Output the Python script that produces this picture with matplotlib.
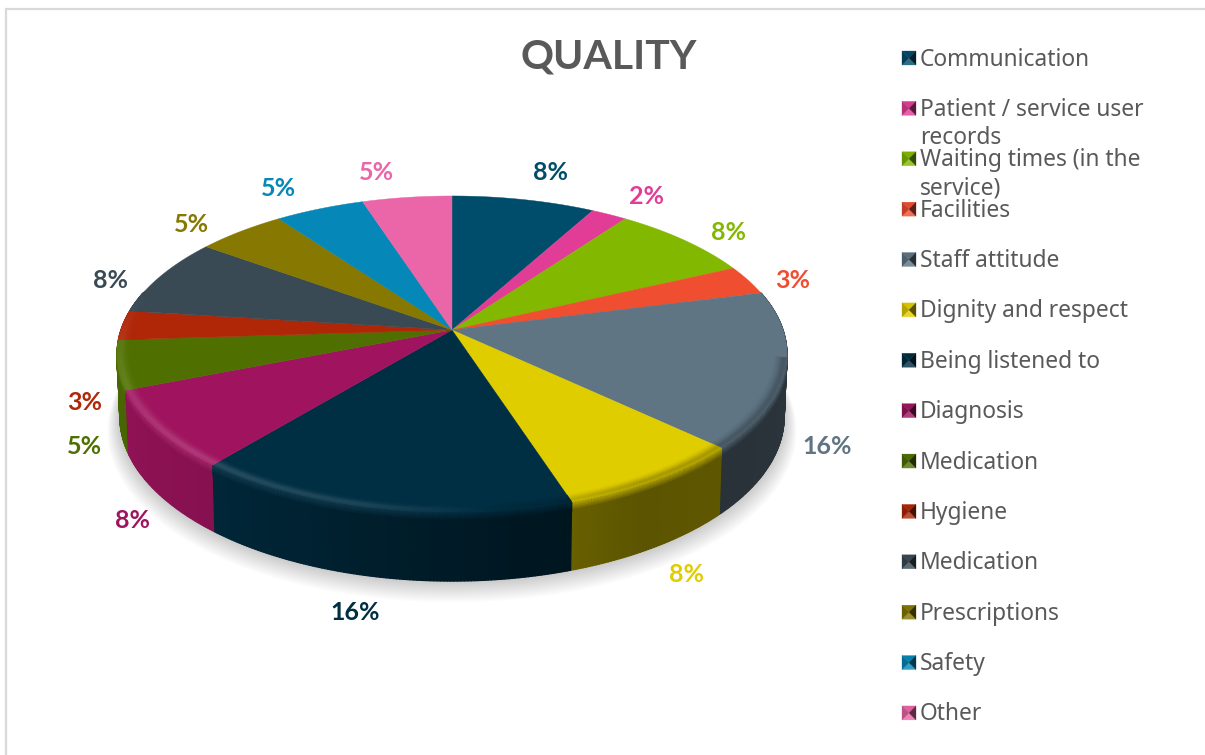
import matplotlib
matplotlib.use('Agg')
import matplotlib.pyplot as plt
from matplotlib.collections import PolyCollection
from matplotlib.colors import to_rgb
from matplotlib.patches import Polygon, Rectangle
import numpy as np

categories = ['Communication', 'Patient / service user\nrecords',
              'Waiting times (in the\nservice)', 'Facilities', 'Staff attitude',
              'Dignity and respect', 'Being listened to', 'Diagnosis', 'Medication',
              'Hygiene', 'Medication', 'Prescriptions', 'Safety', 'Other']
values = [8, 2, 8, 3, 16, 8, 16, 8, 5, 3, 8, 5, 5, 5]
colors = ['#004d6b', '#e23d96', '#82b900', '#f04e31', '#5f7584', '#e0cd00', '#002e43',
          '#a0145f', '#4f7000', '#b02708', '#3a4a55', '#867800', '#0588b8', '#ea66a8']

# label anchors in figure pixels
label_pos = [(551, 173), (647, 196), (729, 233), (793, 280), (827, 446), (686, 575),
             (355, 613), (132, 521), (84, 446), (85, 402), (110, 280), (191, 224),
             (278, 189), (376, 172)]

# perspective of the disc
CX, CY = 452, 330
RX, RY = 331, 154.4
PERSP = 0.152
TEXT_GREY = '#595959'

wall_angle = [100, 150, 170, 200, 220, 250, 280]
wall_level = [0.45, 0.41, 0.50, 0.72, 0.84, 0.90, 0.90]
highlight_angle = [172, 195, 225, 260, 285]
highlight_level = [0.0, 0.12, 0.16, 0.10, 0.0]


def project(theta, rho=1.0, drop=False):
    # theta in degrees clockwise from 12 o'clock
    t = np.radians(theta)
    u, v = rho * np.sin(t), rho * np.cos(t)
    w = 1 + PERSP * v
    x = RX * u / w
    y = CY - RY * v / w
    if drop:
        # wall depth grows towards the viewer, and the lower ring sits a bit further away
        y = y + 61 - 8 * v
        x = x * 0.992
    return CX + x, y


def blend(a, b, f):
    return tuple(np.array(a) * (1 - f) + np.array(b) * f)


def rim_tone(base, angle, k):
    # lit shoulder on the left of the disc, shaded one on the right
    dark = np.interp(angle, [150, 185], [0.25, 0.0])
    tone = np.array(base) * (1 - dark * k)
    return blend(tone, (1, 1, 1), np.interp(angle, highlight_angle, highlight_level) * k)


fig = plt.figure(figsize=(12.05, 7.55), dpi=100)
ax = fig.add_axes([0, 0, 1, 1])
ax.set_xlim(0, 1205)
ax.set_ylim(755, 0)
ax.axis('off')

ax.add_patch(Rectangle((6, 9), 1300, 900, fc='white', ec='#d9d9d9', lw=1.6))

edges = np.concatenate([[0], np.cumsum(values)]) / sum(values) * 360

# soft shadow under the disc
ring = np.linspace(0, 360, 241)
for k in range(14):
    sx, sy = project(ring, 1 + 0.0028 * k, drop=True)
    ax.fill(sx, sy + 1.0 * k, color='black', alpha=0.014, lw=0, zorder=1)

# side wall segments, gathered first so they can be painted back to front
segments = []
for i, c in enumerate(colors):
    th = np.linspace(edges[i], edges[i + 1], max(int(edges[i + 1] - edges[i]), 2) * 2 + 1)
    for a, b in zip(th[:-1], th[1:]):
        if np.cos(np.radians((a + b) / 2)) < 0.25:
            segments.append((a, b, to_rgb(c)))
segments.sort(key=lambda s: -np.cos(np.radians((s[0] + s[1]) / 2)))

quads, quad_colors = [], []
for a, b, base in segments:
    mid = (a + b) / 2
    shade = tuple(np.array(base) * np.interp(mid, wall_angle, wall_level))
    xa, ya = project(a)
    xb, yb = project(b)
    xc, yc = project(b, drop=True)
    xd, yd = project(a, drop=True)
    quads.append([(xa, ya), (xb, yb), (xc, yc), (xd, yd)])
    quad_colors.append(shade)
    # shoulder between the face and the wall
    start = rim_tone(base, mid, 0.6)
    for s in range(5):
        f0, f1 = s * 2.0, (s + 1) * 2.0
        quads.append([(xa, ya + f0), (xb, yb + f0), (xb, yb + f1), (xa, ya + f1)])
        quad_colors.append(blend(start, shade, (s + 1) / 5))
ax.add_collection(PolyCollection(quads, facecolors=quad_colors, edgecolors=quad_colors,
                                 linewidths=0.9, zorder=2))

# top face
rim_steps = np.linspace(0.965, 1.0, 8)
rim_weights = [0.1, 0.25, 0.45, 0.7, 0.95, 1.0, 0.85, 0.65]
rim_quads, rim_colors = [], []
for i, c in enumerate(colors):
    th = np.linspace(edges[i], edges[i + 1], max(int(edges[i + 1] - edges[i]), 2) * 2)
    px, py = project(th)
    pts = [(CX, CY)] + list(zip(px, py))
    ax.add_patch(Polygon(pts, closed=True, fc=c, ec=c, lw=0.3, zorder=3))

    # rim only shows along the front half
    base = to_rgb(c)
    for a, b in zip(th[:-1], th[1:]):
        mid = (a + b) / 2
        if mid < 100 or mid > 285:
            continue
        for rho0, rho1, k in zip(rim_steps[:-1], rim_steps[1:], rim_weights):
            x0, y0 = project(np.array([a, b]), rho0)
            x1, y1 = project(np.array([b, a]), rho1)
            rim_quads.append(list(zip(np.r_[x0, x1], np.r_[y0, y1])))
            rim_colors.append(rim_tone(base, mid, k))
ax.add_collection(PolyCollection(rim_quads, facecolors=rim_colors, edgecolors=rim_colors,
                                 linewidths=0.5, zorder=4))

for v, c, (lx, ly) in zip(values, colors, label_pos):
    ax.text(lx, ly, f'{v}%', color=c, fontsize=18, fontweight='bold', family='Lato',
            ha='center', va='center', zorder=6)

ax.text(609, 57, 'QUALITY', color=TEXT_GREY, fontsize=29.5, fontweight='bold', family='Lato',
        ha='center', va='center', zorder=6)

# legend, with little bevelled keys
for i, (name, c) in enumerate(zip(categories, colors)):
    y = 57 + i * 50.38
    base = np.array(to_rgb(c))
    x0, x1, y0, y1 = 902, 916, y - 6, y + 8
    xm, ym = (x0 + x1) / 2, (y0 + y1) / 2
    tris = [[(x0, y0), (x1, y0), (xm, ym)], [(x0, y1), (x1, y1), (xm, ym)],
            [(x0, y0), (x0, y1), (xm, ym)], [(x1, y0), (x1, y1), (xm, ym)]]
    tones = [base * 0.95, blend(base, (1, 1, 1), 0.18), base * 0.8, base * 0.4]
    for tri, tone in zip(tris, tones):
        ax.add_patch(Polygon(tri, closed=True, fc=tone, ec=tone, lw=0.2, zorder=5))
    for j, line in enumerate(name.split('\n')):
        ax.text(920, y + 2.5 + j * 28, line, color=TEXT_GREY, fontsize=16.4, family='Noto Sans',
                ha='left', va='center', zorder=6)

fig.savefig('out.png', dpi=100)
